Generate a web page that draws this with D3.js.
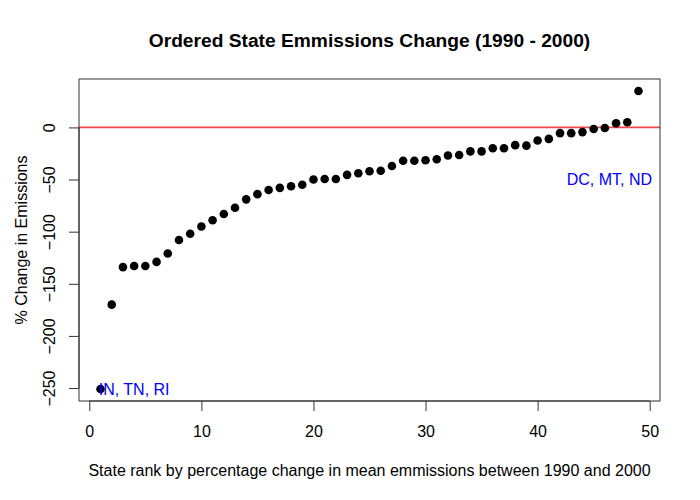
<!DOCTYPE html>
<html>
<head>
<meta charset="utf-8">
<script src="https://cdn.jsdelivr.net/npm/d3@7"></script>
<style>
  body { margin: 0; background: #fff; }
  text { font-family: "Liberation Sans", Arial, Helvetica, sans-serif; }
</style>
</head>
<body>
<div id="chart"></div>
<script>
// % change in mean emissions, states ordered by rank (1..49)
const changes = [
  -251, -170, -134, -133, -133, -129, -121, -108, -102, -95,
  -89, -83, -77, -69, -64, -60, -58, -56.5, -55, -50,
  -49.5, -49.5, -45.5, -44, -42, -41.5, -37, -32, -32, -31.5,
  -30.5, -27, -26.5, -23, -23, -20, -20, -17, -17.5, -12.5,
  -11, -5.5, -5.5, -4.5, -1.5, -0.5, 4, 5, 35
]
const ranks = changes.map((_, i) => i + 1)

const xTicks = [0, 10, 20, 30, 40, 50]
const yTicks = [-250, -200, -150, -100, -50, 0]

const noteText = ["IN, TN, RI", "DC, MT, ND"]
const noteX = [4, 46.4]
const noteY = [-251, -50]

const width = 700, height = 500
const margin = { top: 79, right: 40, bottom: 99, left: 79 }

const svg = d3.select("#chart").append("svg")
  .attr("width", width).attr("height", height)

// R style: extend data range by 4% each side
const padRange = (lo, hi) => { const p = (hi - lo) * 0.04; return [lo - p, hi + p] }

const x = d3.scaleLinear()
  .domain(padRange(d3.min(ranks), d3.max(ranks)))
  .range([margin.left, width - margin.right])
const y = d3.scaleLinear()
  .domain(padRange(d3.min(changes), d3.max(changes)))
  .range([height - margin.bottom, margin.top])

const [x0, x1] = x.range()
const [y0, y1] = y.range()

// reference line at zero
svg.append("line")
  .attr("x1", x0).attr("x2", x1)
  .attr("y1", y(0)).attr("y2", y(0))
  .attr("stroke", "#f04848").attr("stroke-width", 1.8)

// points
svg.append("g")
  .selectAll("circle")
  .data(changes)
  .enter()
  .append("circle")
  .attr("cx", (d, i) => x(ranks[i]))
  .attr("cy", d => y(d))
  .attr("r", 4.3)
  .attr("fill", "#000")

// notes
svg.append("g")
  .selectAll("text")
  .data(noteText)
  .enter()
  .append("text")
  .attr("x", (d, i) => x(noteX[i]))
  .attr("y", (d, i) => y(noteY[i]))
  .attr("dy", "0.36em")
  .attr("text-anchor", "middle")
  .attr("fill", "#0000ff")
  .style("font-size", "16px")
  .text(d => d)

// box
svg.append("rect")
  .attr("x", x0).attr("y", y1)
  .attr("width", x1 - x0).attr("height", y0 - y1)
  .attr("fill", "none").attr("stroke", "#333").attr("stroke-width", 1)

// x axis
const xAxis = d3.axisBottom(x).tickValues(xTicks).tickSize(10).tickPadding(6).tickSizeOuter(0)
const gx = svg.append("g")
  .attr("transform", `translate(0,${y0})`)
  .call(xAxis)
gx.select(".domain").attr("d", `M${x(xTicks[0])},0H${x(xTicks[xTicks.length - 1])}`).attr("stroke", "#333")
gx.selectAll(".tick line").attr("stroke", "#333")
gx.selectAll(".tick text")
  .attr("y", 0).attr("dy", "36px")
  .style("font-size", "16px").attr("fill", "#000")
  .style("font-family", '"Liberation Sans", Arial, sans-serif')

// y axis
const yAxis = d3.axisLeft(y).tickValues(yTicks).tickSize(10).tickSizeOuter(0)
const gy = svg.append("g")
  .attr("transform", `translate(${x0},0)`)
  .call(yAxis)
gy.select(".domain").attr("d", `M0,${y(yTicks[0])}V${y(yTicks[yTicks.length - 1])}`).attr("stroke", "#333")
gy.selectAll(".tick line").attr("stroke", "#333")
gy.selectAll(".tick text")
  .attr("x", 0).attr("dy", 0)
  .attr("transform", "translate(-24,0) rotate(-90)")
  .attr("text-anchor", "middle")
  .style("font-size", "16px").attr("fill", "#000")
  .style("font-family", '"Liberation Sans", Arial, sans-serif')

// titles
svg.append("text")
  .attr("x", (x0 + x1) / 2).attr("y", 47)
  .attr("text-anchor", "middle")
  .style("font-size", "19.2px").style("font-weight", "bold")
  .text("Ordered State Emmissions Change (1990 - 2000)")

svg.append("text")
  .attr("x", (x0 + x1) / 2).attr("y", 475.5)
  .attr("text-anchor", "middle")
  .style("font-size", "16px")
  .text("State rank by percentage change in mean emmissions between 1990 and 2000")

svg.append("text")
  .attr("transform", `translate(26.5,${(y0 + y1) / 2}) rotate(-90)`)
  .attr("text-anchor", "middle")
  .style("font-size", "16px")
  .text("% Change in Emissions")
</script>
</body>
</html>
